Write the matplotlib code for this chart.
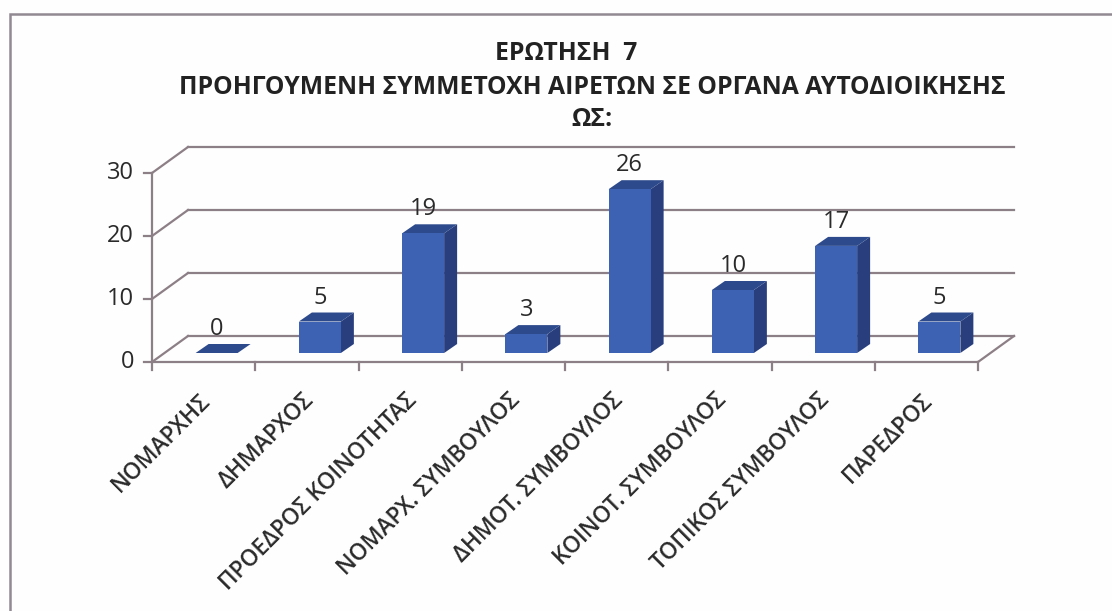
import matplotlib
matplotlib.use("Agg")
import matplotlib.pyplot as plt
from matplotlib.patches import Polygon, Rectangle

plt.rcParams['font.family'] = ['Open Sans', 'DejaVu Sans']

categories = ["ΝΟΜΑΡΧΗΣ", "ΔΗΜΑΡΧΟΣ", "ΠΡΟΕΔΡΟΣ ΚΟΙΝΟΤΗΤΑΣ", "ΝΟΜΑΡΧ. ΣΥΜΒΟΥΛΟΣ",
              "ΔΗΜΟΤ. ΣΥΜΒΟΥΛΟΣ", "ΚΟΙΝΟΤ. ΣΥΜΒΟΥΛΟΣ", "ΤΟΠΙΚΟΣ ΣΥΜΒΟΥΛΟΣ", "ΠΑΡΕΔΡΟΣ"]
values = [0, 5, 19, 3, 26, 10, 17, 5]
y_ticks = [0, 10, 20, 30]
title_lines = ["ΕΡΩΤΗΣΗ  7", "ΠΡΟΗΓΟΥΜΕΝΗ ΣΥΜΜΕΤΟΧΗ ΑΙΡΕΤΩΝ ΣΕ ΟΡΓΑΝΑ ΑΥΤΟΔΙΟΙΚΗΣΗΣ", "ΩΣ:"]

W, H = 1112, 611
fig = plt.figure(figsize=(W / 100, H / 100), dpi=100, facecolor="#fefefe")

L, R, T, B = 152, 978, 173, 362
ax = fig.add_axes([L / W, 1 - B / H, (R - L) / W, (B - T) / H])
ax.set_xlim(0, 8)
ax.set_ylim(0, 30)
ax.axis("off")

ux = (R - L) / 8
uy = (B - T) / 30
DX, DY = 36 / ux, 26 / uy
BX, BY = 13 / ux, 9 / uy
DBX, DBY = 13 / ux, 9 / uy
BW = 42 / ux

GRID = "#8d7f86"
FRONT = "#3d62b4"
TOP = "#2d4a8c"
SIDE = "#293f7d"
INK = "#2a2a2a"

for v in y_ticks:
    ax.plot([DX, 8 + DX], [v + DY, v + DY], color=GRID, lw=1.6, clip_on=False, zorder=1)
    ax.plot([0, DX], [v, v + DY], color=GRID, lw=1.6, clip_on=False, zorder=1)
    ax.plot([-8 / ux, 0], [v, v], color=GRID, lw=1.6, clip_on=False, zorder=1)
    ax.text(-18 / ux, v, str(v), ha="right", va="center", fontsize=17, color=INK, clip_on=False)
ax.plot([0, 0], [0, 30], color=GRID, lw=1.6, clip_on=False, zorder=1)
ax.plot([0, 8], [0, 0], color=GRID, lw=1.6, clip_on=False, zorder=1)
ax.plot([8, 8 + DX], [0, DY], color=GRID, lw=1.6, clip_on=False, zorder=1)
for i in range(9):
    ax.plot([i, i], [0, -8 / uy], color=GRID, lw=1.6, clip_on=False, zorder=1)

for i, v in enumerate(values):
    x0 = i + 0.5 + BX - BW / 2
    x1 = x0 + BW
    y0 = BY
    y1 = v + BY
    ax.add_patch(Polygon([(x1, y0), (x1 + DBX, y0 + DBY), (x1 + DBX, y1 + DBY), (x1, y1)],
                         fc=SIDE, ec="none", clip_on=False, zorder=3))
    ax.add_patch(Polygon([(x0, y1), (x1, y1), (x1 + DBX, y1 + DBY), (x0 + DBX, y1 + DBY)],
                         fc=TOP, ec="none", clip_on=False, zorder=3))
    ax.add_patch(Rectangle((x0, y0), BW, v, fc=FRONT, ec="none", clip_on=False, zorder=4))
    ax.text(i + 0.5 + BX, y1 + DBY + 15 / uy, str(v), ha="center", va="center",
            fontsize=17, color=INK, clip_on=False, zorder=5)
    ax.text(i + 0.5 + 3 / ux, -35 / uy, categories[i], rotation=45, rotation_mode="anchor",
            ha="right", va="center", fontsize=16.3, fontweight="semibold", color=INK, clip_on=False)

for line, x, y in zip(title_lines, [566, 592, 592], [54, 87, 120]):
    fig.text(x / W, 1 - y / H, line, ha="center", va="center", fontsize=17.8, fontweight="bold", color="#222222")

fig.add_artist(Polygon([(10 / W, 0), (10 / W, 1 - 14 / H), (1 + 2 / W, 1 - 14 / H)], closed=False, fill=False,
                       ec="#928a92", lw=1.8, transform=fig.transFigure))

fig.savefig("out.png", dpi=100, facecolor=fig.get_facecolor())
